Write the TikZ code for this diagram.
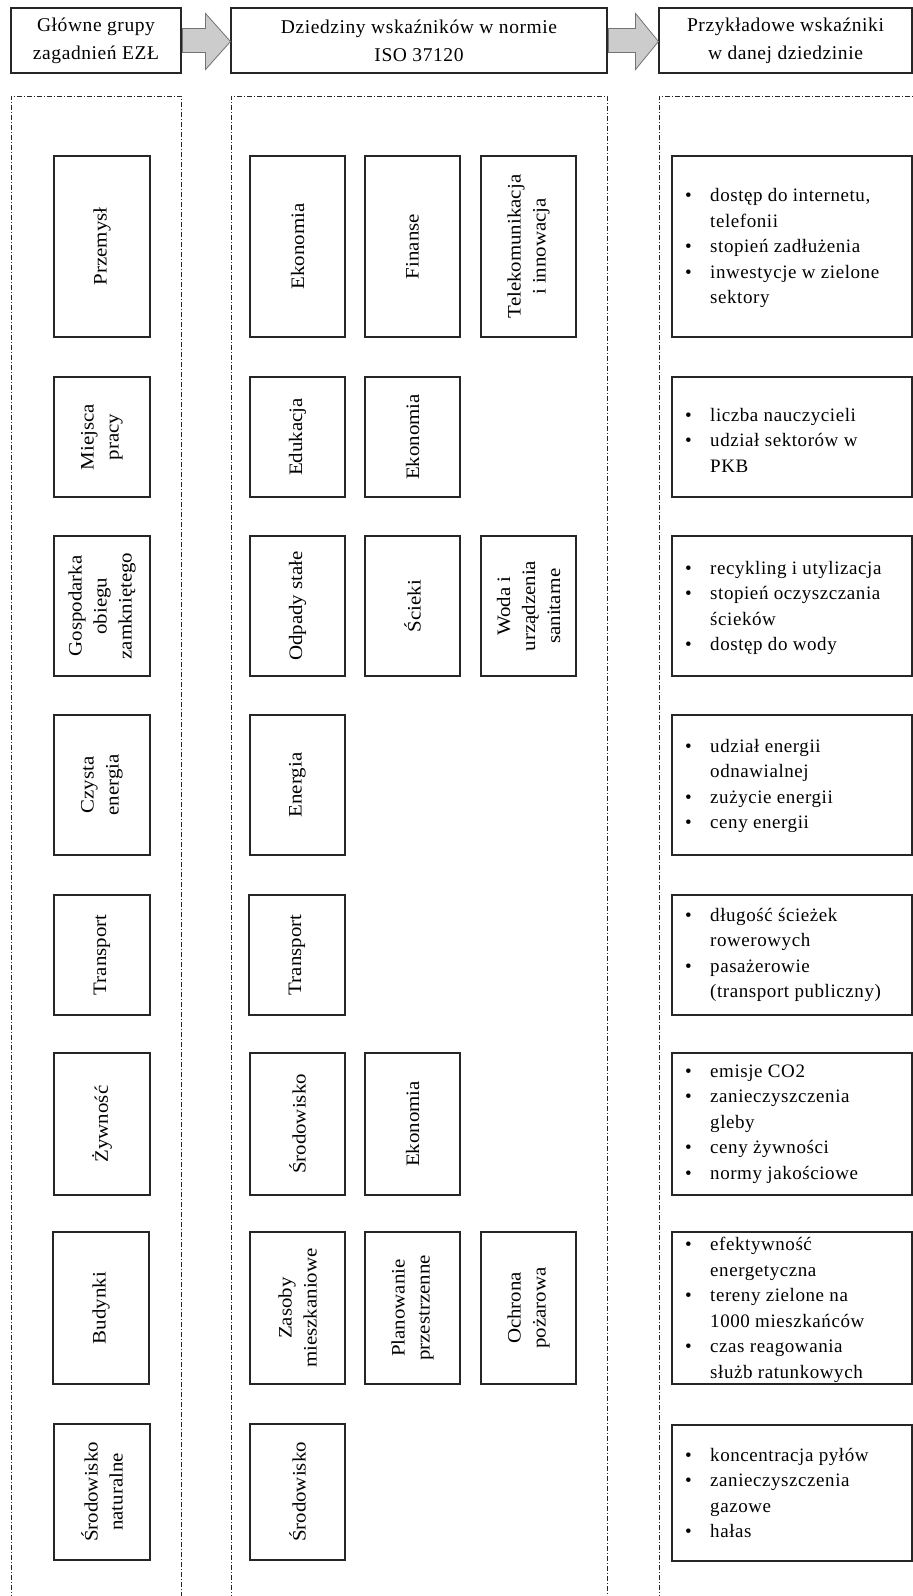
\documentclass[tikz,border=0pt]{standalone}
\usepackage{fontspec}
\setmainfont{Liberation Serif}
\newfontfamily\boxfont[FakeStretch=1.1]{Liberation Serif}
\newfontfamily\itemfont[LetterSpace=3]{Liberation Serif}
\usetikzlibrary{calc}
\newcommand\bul[1]{\makebox[25pt][l]{\textbullet}#1}
\newcommand\cnt[1]{\hspace*{25pt}#1}
\begin{document}
\begin{tikzpicture}[x=1pt,y=-1pt,
  hdr/.style={draw=black!85, line width=1.1pt, minimum height=65pt, inner sep=0pt, align=center, font=\itemfont\fontsize{19.5}{28}\selectfont},
  vbox/.style={draw=black!85, line width=1.1pt, rotate=90, inner sep=0pt, align=center, font=\boxfont\fontsize{19}{25}\selectfont},
  ibox/.style={draw=black!85, line width=1.1pt, minimum width=240pt, inner sep=0pt},
  itxt/.style={anchor=west, inner sep=0pt, align=left, font=\itemfont\fontsize{19}{25.5}\selectfont},
  colframe/.style={draw=black!85, line width=1pt, dash pattern=on 5pt off 2pt on 1pt off 2pt},
  blockarrow/.style={draw=black!55, fill=black!20, line width=0.8pt, line join=miter}]
\useasboundingbox (0,0) rectangle (913,1596);
\clip (0,0) rectangle (913,1596);
\fill[white] (0,0) rectangle (913,1596);

% header
\node[hdr, minimum width=170pt] (h1) at (96,40.5) {Główne grupy\\zagadnień EZŁ};
\node[hdr, minimum width=376pt] (h2) at (419,40.5) {Dziedziny wskaźników w normie\\ISO 37120};
\node[hdr, minimum width=253pt] (h3) at (785.5,40.5) {Przykładowe wskaźniki\\w danej dziedzinie};

\draw[blockarrow] ($(h1.east)+(1,-12)$) -- ($(h1.east)+(24,-12)$) -- ($(h1.east)+(24,-27)$)
  -- ($(h2.west)+(0,1)$) -- ($(h1.east)+(24,29)$) -- ($(h1.east)+(24,12)$) -- ($(h1.east)+(1,12)$) -- cycle;
\draw[blockarrow] ($(h2.east)+(1,-12)$) -- ($(h2.east)+(28,-12)$) -- ($(h2.east)+(28,-27)$)
  -- ($(h3.west)+(0,1)$) -- ($(h2.east)+(28,29)$) -- ($(h2.east)+(28,12)$) -- ($(h2.east)+(1,12)$) -- cycle;

% column frames
\draw[colframe] (11,1640) -- (11,96) -- (181,96) -- (181,1640);
\draw[colframe] (231,1640) -- (231,96) -- (607,96) -- (607,1640);
\draw[colframe] (659,1640) -- (659,96) -- (930,96);

% row 1
\node[vbox, minimum width=181pt, minimum height=96pt] (g1) at (102,246.5) {Przemysł};
\node[vbox, minimum width=181pt, minimum height=95pt] (d1a) at (297.5,246.5) {Ekonomia};
\node[vbox, minimum width=181pt, minimum height=95pt] (d1b) at (412.5,246.5) {Finanse};
\node[vbox, minimum width=181pt, minimum height=95pt] (d1c) at (528.5,246.5) {Telekomunikacja\\i innowacja};
\node[ibox, minimum height=181pt] (w1) at (792,246.5) {};
\node[itxt] (t1) at (685,248) {\bul{dostęp do internetu,}\\\cnt{telefonii}\\\bul{stopień zadłużenia}\\\bul{inwestycje w zielone}\\\cnt{sektory}};

% row 2
\node[vbox, minimum width=120pt, minimum height=96pt] (g2) at (102,437) {Miejsca\\pracy};
\node[vbox, minimum width=120pt, minimum height=95pt] (d2a) at (297.5,437) {Edukacja};
\node[vbox, minimum width=120pt, minimum height=95pt] (d2b) at (412.5,437) {Ekonomia};
\node[ibox, minimum height=120pt] (w2) at (792,437) {};
\node[itxt] (t2) at (685,440) {\bul{liczba nauczycieli}\\\bul{udział sektorów w}\\\cnt{PKB}};

% row 3
\node[vbox, minimum width=140pt, minimum height=96pt] (g3) at (102,606) {Gospodarka\\obiegu\\zamkniętego};
\node[vbox, minimum width=140pt, minimum height=95pt] (d3a) at (297.5,606) {Odpady stałe};
\node[vbox, minimum width=140pt, minimum height=95pt] (d3b) at (412.5,606) {Ścieki};
\node[vbox, minimum width=140pt, minimum height=95pt] (d3c) at (528.5,606) {Woda i\\urządzenia\\sanitarne};
\node[ibox, minimum height=140pt] (w3) at (792,606) {};
\node[itxt] (t3) at (685,608) {\bul{recykling i utylizacja}\\\bul{stopień oczyszczania}\\\cnt{ścieków}\\\bul{dostęp do wody}};

% row 4
\node[vbox, minimum width=140pt, minimum height=96pt] (g4) at (102,785) {Czysta\\energia};
\node[vbox, minimum width=140pt, minimum height=95pt] (d4a) at (297.5,785) {Energia};
\node[ibox, minimum height=140pt] (w4) at (792,785) {};
\node[itxt] (t4) at (685,786) {\bul{udział energii}\\\cnt{odnawialnej}\\\bul{zużycie energii}\\\bul{ceny energii}};

% row 5
\node[vbox, minimum width=120pt, minimum height=96pt] (g5) at (102,955) {Transport};
\node[vbox, minimum width=120pt, minimum height=96pt] (d5a) at (297,955) {Transport};
\node[ibox, minimum height=120pt] (w5) at (792,955) {};
\node[itxt] (t5) at (685,955) {\bul{długość ścieżek}\\\cnt{rowerowych}\\\bul{pasażerowie}\\\cnt{(transport publiczny)}};

% row 6
\node[vbox, minimum width=142pt, minimum height=96pt] (g6) at (102,1124) {Żywność};
\node[vbox, minimum width=142pt, minimum height=95pt] (d6a) at (297.5,1124) {Środowisko};
\node[vbox, minimum width=142pt, minimum height=95pt] (d6b) at (412.5,1124) {Ekonomia};
\node[ibox, minimum height=142pt] (w6) at (792,1124) {};
\node[itxt] (t6) at (685,1124) {\bul{emisje CO2}\\\bul{zanieczyszczenia}\\\cnt{gleby}\\\bul{ceny żywności}\\\bul{normy jakościowe}};

% row 7
\node[vbox, minimum width=152pt, minimum height=96pt] (g7) at (101,1308) {Budynki};
\node[vbox, minimum width=152pt, minimum height=95pt] (d7a) at (297.5,1308) {Zasoby\\mieszkaniowe};
\node[vbox, minimum width=152pt, minimum height=95pt] (d7b) at (412.5,1308) {Planowanie\\przestrzenne};
\node[vbox, minimum width=152pt, minimum height=95pt] (d7c) at (528.5,1308) {Ochrona\\pożarowa};
\node[ibox, minimum height=152pt] (w7) at (792,1308) {};
\node[itxt] (t7) at (685,1310) {\bul{efektywność}\\\cnt{energetyczna}\\\bul{tereny zielone na}\\\cnt{1000 mieszkańców}\\\bul{czas reagowania}\\\cnt{służb ratunkowych}};

% row 8
\node[vbox, minimum width=136pt, minimum height=96pt] (g8) at (102,1492) {Środowisko\\naturalne};
\node[vbox, minimum width=136pt, minimum height=95pt] (d8a) at (297.5,1492) {Środowisko};
\node[ibox, minimum height=136pt] (w8) at (792,1493) {};
\node[itxt] (t8) at (685,1493) {\bul{koncentracja pyłów}\\\bul{zanieczyszczenia}\\\cnt{gazowe}\\\bul{hałas}};
\end{tikzpicture}
\end{document}
